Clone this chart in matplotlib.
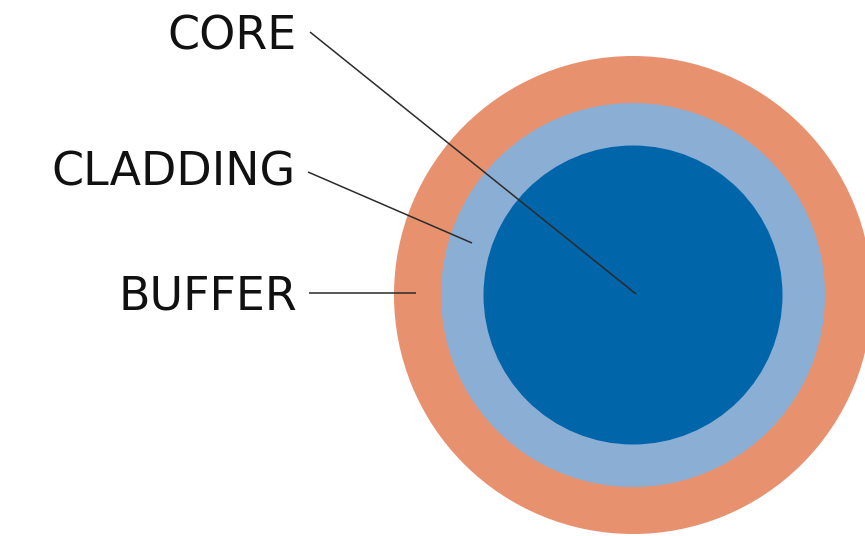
import matplotlib
matplotlib.use("Agg")
import matplotlib.pyplot as plt
from matplotlib.patches import Circle

# Data: fiber layers (outer to inner) and their radii (pixels in the reference)
layers = ["BUFFER", "CLADDING", "CORE"]
radii = [239, 192, 149.5]
colors = ["#E8916F", "#8BAED5", "#0065A9"]

# label text anchors (right edge, baseline) and leader line endpoints
labels = ["CORE", "CLADDING", "BUFFER"]
label_xy = [(297, 49), (296, 186), (297, 310)]
line_start = [(310, 32), (308, 172), (309, 293)]
line_end = [(636, 294), (472, 243), (416, 293)]

center = (633, 295)

fig = plt.figure(figsize=(8.65, 5.36), dpi=100)
ax = fig.add_axes([0, 0, 1, 1])
ax.set_xlim(0, 865)
ax.set_ylim(536, 0)
ax.set_aspect("equal")
ax.axis("off")

for r, c in zip(radii, colors):
    ax.add_patch(Circle(center, r, facecolor=c, edgecolor="none", zorder=1))

for (x0, y0), (x1, y1) in zip(line_start, line_end):
    ax.plot([x0, x1], [y0, y1], color="#2b2b2b", lw=1.1, zorder=3,
            solid_capstyle="butt")

for txt, (x, y) in zip(labels, label_xy):
    ax.text(x, y, txt, ha="right", va="baseline", fontsize=33,
            family="DejaVu Sans", color="#111111", zorder=4)

fig.savefig("out.png", dpi=100)
